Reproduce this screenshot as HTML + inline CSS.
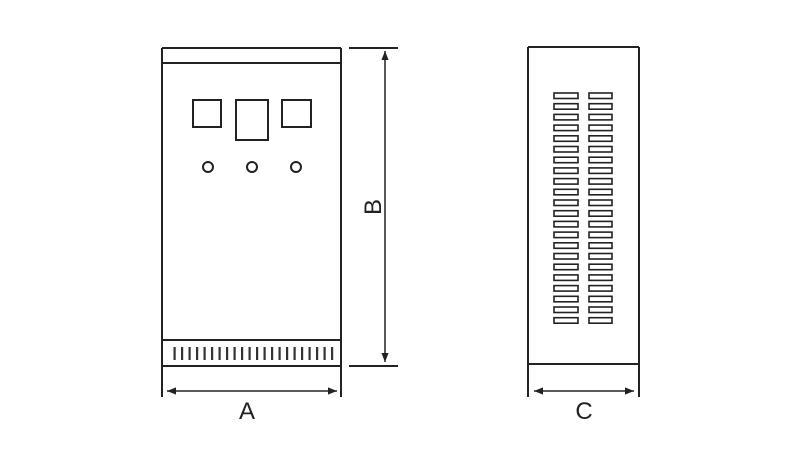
<!DOCTYPE html>
<html><head><meta charset="utf-8"><style>
html,body{margin:0;padding:0;background:#fff;}
svg{display:block;}
</style></head><body>
<svg width="800" height="457" viewBox="0 0 800 457" xmlns="http://www.w3.org/2000/svg">
<defs>
<marker id="ar" viewBox="0 0 10 10" refX="10" refY="5" markerWidth="9" markerHeight="9" markerUnits="userSpaceOnUse" orient="auto-start-reverse">
<path d="M0,1 L10,5 L0,9 Z" fill="#222"/>
</marker>
</defs>
<g stroke="#222" stroke-width="2" fill="none">
<!-- left cabinet -->
<line x1="162" y1="48" x2="162" y2="397"/>
<line x1="341" y1="48" x2="341" y2="397"/>
<line x1="162" y1="48" x2="341" y2="48"/>
<line x1="162" y1="63" x2="341" y2="63"/>
<line x1="162" y1="340" x2="341" y2="340"/>
<line x1="162" y1="366" x2="341" y2="366"/>
<rect x="193" y="100" width="28" height="27"/>
<rect x="236" y="100" width="32" height="40"/>
<rect x="282" y="100" width="29" height="27"/>
<circle cx="208" cy="167" r="5"/>
<circle cx="252" cy="167" r="5"/>
<circle cx="296" cy="167" r="5"/>
<!-- B dimension -->
<line x1="349" y1="48" x2="398" y2="48"/>
<line x1="349" y1="366" x2="398" y2="366"/>
<line x1="385" y1="51" x2="385" y2="362" stroke-width="1.5" marker-start="url(#ar)" marker-end="url(#ar)"/>
<!-- A dimension -->
<line x1="167" y1="391" x2="337" y2="391" stroke-width="1.5" marker-start="url(#ar)" marker-end="url(#ar)"/>
<!-- right cabinet -->
<line x1="528" y1="47" x2="528" y2="397"/>
<line x1="639" y1="47" x2="639" y2="397"/>
<line x1="528" y1="47" x2="639" y2="47"/>
<line x1="528" y1="364" x2="639" y2="364"/>
<line x1="534" y1="391" x2="634" y2="391" stroke-width="1.5" marker-start="url(#ar)" marker-end="url(#ar)"/>
</g>
<g fill="#333">
<rect x="173.5" y="347" width="2.2" height="13"/><rect x="181" y="347" width="2.2" height="13"/><rect x="188.5" y="347" width="2.2" height="13"/><rect x="196" y="347" width="2.2" height="13"/><rect x="203.5" y="347" width="2.2" height="13"/><rect x="211" y="347" width="2.2" height="13"/><rect x="218.5" y="347" width="2.2" height="13"/><rect x="226" y="347" width="2.2" height="13"/><rect x="233.5" y="347" width="2.2" height="13"/><rect x="241" y="347" width="2.2" height="13"/><rect x="248.5" y="347" width="2.2" height="13"/><rect x="256" y="347" width="2.2" height="13"/><rect x="263.5" y="347" width="2.2" height="13"/><rect x="271" y="347" width="2.2" height="13"/><rect x="278.5" y="347" width="2.2" height="13"/><rect x="286" y="347" width="2.2" height="13"/><rect x="293.5" y="347" width="2.2" height="13"/><rect x="301" y="347" width="2.2" height="13"/><rect x="308.5" y="347" width="2.2" height="13"/><rect x="316" y="347" width="2.2" height="13"/><rect x="323.5" y="347" width="2.2" height="13"/><rect x="331" y="347" width="2.2" height="13"/>
</g>
<g stroke="#222" stroke-width="1.6" fill="none">
<rect x="554" y="93" width="24" height="5.5"/><rect x="589" y="93" width="23" height="5.5"/>
<rect x="554" y="103.7" width="24" height="5.5"/><rect x="589" y="103.7" width="23" height="5.5"/>
<rect x="554" y="114.4" width="24" height="5.5"/><rect x="589" y="114.4" width="23" height="5.5"/>
<rect x="554" y="125.1" width="24" height="5.5"/><rect x="589" y="125.1" width="23" height="5.5"/>
<rect x="554" y="135.8" width="24" height="5.5"/><rect x="589" y="135.8" width="23" height="5.5"/>
<rect x="554" y="146.5" width="24" height="5.5"/><rect x="589" y="146.5" width="23" height="5.5"/>
<rect x="554" y="157.2" width="24" height="5.5"/><rect x="589" y="157.2" width="23" height="5.5"/>
<rect x="554" y="167.9" width="24" height="5.5"/><rect x="589" y="167.9" width="23" height="5.5"/>
<rect x="554" y="178.6" width="24" height="5.5"/><rect x="589" y="178.6" width="23" height="5.5"/>
<rect x="554" y="189.3" width="24" height="5.5"/><rect x="589" y="189.3" width="23" height="5.5"/>
<rect x="554" y="200" width="24" height="5.5"/><rect x="589" y="200" width="23" height="5.5"/>
<rect x="554" y="210.7" width="24" height="5.5"/><rect x="589" y="210.7" width="23" height="5.5"/>
<rect x="554" y="221.4" width="24" height="5.5"/><rect x="589" y="221.4" width="23" height="5.5"/>
<rect x="554" y="232.1" width="24" height="5.5"/><rect x="589" y="232.1" width="23" height="5.5"/>
<rect x="554" y="242.8" width="24" height="5.5"/><rect x="589" y="242.8" width="23" height="5.5"/>
<rect x="554" y="253.5" width="24" height="5.5"/><rect x="589" y="253.5" width="23" height="5.5"/>
<rect x="554" y="264.2" width="24" height="5.5"/><rect x="589" y="264.2" width="23" height="5.5"/>
<rect x="554" y="274.9" width="24" height="5.5"/><rect x="589" y="274.9" width="23" height="5.5"/>
<rect x="554" y="285.6" width="24" height="5.5"/><rect x="589" y="285.6" width="23" height="5.5"/>
<rect x="554" y="296.3" width="24" height="5.5"/><rect x="589" y="296.3" width="23" height="5.5"/>
<rect x="554" y="307" width="24" height="5.5"/><rect x="589" y="307" width="23" height="5.5"/>
<rect x="554" y="317.7" width="24" height="5.5"/><rect x="589" y="317.7" width="23" height="5.5"/>
</g>
<g font-family="Liberation Sans, sans-serif" font-size="24" fill="#222" text-anchor="middle">
<text x="247" y="419">A</text>
<text x="584" y="419">C</text>
<text x="0" y="0" transform="translate(381,207) rotate(-90)">B</text>
</g>
</svg>
</body></html>
